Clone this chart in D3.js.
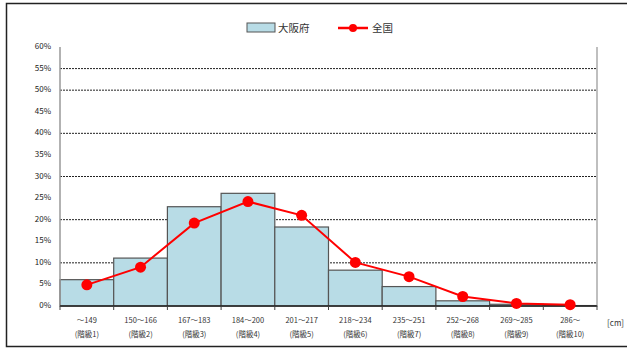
<!DOCTYPE html>
<html><head><meta charset="utf-8">
<script src="https://cdn.jsdelivr.net/npm/d3@7"></script>
<style>body{margin:0;background:#fff}svg{display:block;font-family:"Noto Sans CJK JP","Noto Sans",sans-serif}</style>
</head><body>
<svg id="c" width="627" height="351"></svg>
<script>
const ranges = ["～149","150～166","167～183","184～200","201～217","218～234","235～251","252～268","269～285","286～"];
const classes = ["(階級1)","(階級2)","(階級3)","(階級4)","(階級5)","(階級6)","(階級7)","(階級8)","(階級9)","(階級10)"];
const osaka = [6.1, 11.1, 23.0, 26.1, 18.3, 8.3, 4.5, 1.2, 0.4, 0.1];
const zenkoku = [4.9, 9.0, 19.2, 24.2, 21.0, 10.1, 6.8, 2.2, 0.6, 0.3];
const yTicks = [0,5,10,15,20,25,30,35,40,45,50,55,60];
const gridVals = [10,20,30,40,50,55];
const seriesNames = ["大阪府","全国"];
const unitLabel = "[cm]";

const svg = d3.select("#c");
const m = {l:60, r:597, t:47, b:306};
const x = d3.scaleBand().domain(d3.range(ranges.length)).range([m.l, m.r]).padding(0);
const y = d3.scaleLinear().domain([0,60]).range([m.b, m.t]);

// outer frame
svg.append("rect").attr("x",6.5).attr("y",3.5).attr("width",630).attr("height",343)
  .attr("fill","none").attr("stroke","#222").attr("stroke-width",1.5);

// gridlines
svg.append("g").selectAll("line").data(gridVals).join("line")
  .attr("x1",m.l).attr("x2",m.r).attr("y1",d=>y(d)).attr("y2",d=>y(d))
  .attr("stroke","#222").attr("stroke-width",1).attr("stroke-dasharray","2,1");

// bars
svg.append("g").selectAll("rect").data(osaka).join("rect")
  .attr("x",(d,i)=>x(i)).attr("width",x.bandwidth())
  .attr("y",d=>y(d)).attr("height",d=>m.b-y(d))
  .attr("fill","#b8dce6").attr("stroke","#555").attr("stroke-width",1.2);

// axes lines
svg.append("line").attr("x1",m.l).attr("x2",m.l).attr("y1",m.t).attr("y2",m.b).attr("stroke","#999").attr("stroke-width",1.5);
svg.append("line").attr("x1",m.r).attr("x2",m.r).attr("y1",m.t).attr("y2",m.b).attr("stroke","#aaa").attr("stroke-width",1.5);
svg.append("line").attr("x1",m.l).attr("x2",m.r).attr("y1",m.b).attr("y2",m.b).attr("stroke","#222").attr("stroke-width",1.5);
// x ticks
svg.append("g").selectAll("line").data(d3.range(ranges.length+1)).join("line")
  .attr("x1",d=>m.l+d*x.bandwidth()).attr("x2",d=>m.l+d*x.bandwidth())
  .attr("y1",m.b).attr("y2",m.b+4).attr("stroke","#444");

// y tick labels
svg.append("g").selectAll("text").data(yTicks).join("text")
  .attr("x",51).attr("y",d=>y(d)+2).attr("text-anchor","end")
  .attr("font-size",8).attr("fill","#222").text(d=>d+"%");

// x labels
const xl = svg.append("g").selectAll("g").data(ranges).join("g")
  .attr("transform",(d,i)=>`translate(${x(i)+x.bandwidth()/2},0)`);
xl.append("text").attr("y",323).attr("text-anchor","middle").attr("font-size",7.5).attr("fill","#333").text(d=>d);
xl.append("text").attr("y",337).attr("text-anchor","middle").attr("font-size",7.5).attr("fill","#333").text((d,i)=>classes[i]);
svg.append("text").attr("x",624).attr("y",326).attr("text-anchor","end").attr("font-size",8).attr("fill","#333").text(unitLabel);

// line series
const line = d3.line().x((d,i)=>x(i)+x.bandwidth()/2).y(d=>y(d));
svg.append("path").datum(zenkoku).attr("d",line).attr("fill","none").attr("stroke","#f00").attr("stroke-width",2);
svg.append("g").selectAll("circle").data(zenkoku).join("circle")
  .attr("cx",(d,i)=>x(i)+x.bandwidth()/2).attr("cy",d=>y(d)).attr("r",5.5).attr("fill","#f00");

// legend
const lg = svg.append("g");
lg.append("rect").attr("x",247).attr("y",23).attr("width",28).attr("height",9).attr("fill","#b8dce6").attr("stroke","#555");
lg.append("text").attr("x",278).attr("y",32).attr("font-size",10.5).attr("fill","#333").text(seriesNames[0]);
lg.append("line").attr("x1",338).attr("x2",368).attr("y1",28).attr("y2",28).attr("stroke","#f00").attr("stroke-width",2.5);
lg.append("circle").attr("cx",353).attr("cy",28).attr("r",4).attr("fill","#f00");
lg.append("text").attr("x",372).attr("y",32).attr("font-size",10.5).attr("fill","#333").text(seriesNames[1]);
</script>
</body></html>
